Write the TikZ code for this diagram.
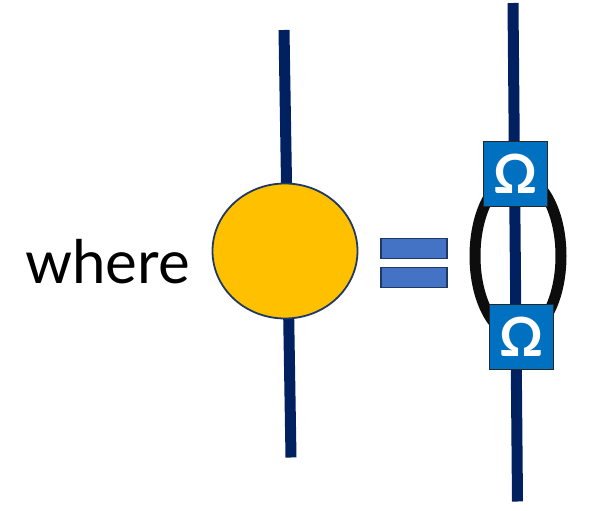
\documentclass[tikz,border=0pt]{standalone}
\usepackage{fontspec}
\usetikzlibrary{shapes.geometric}
\setmainfont{Lato}
\definecolor{navy}{HTML}{002060}
\definecolor{gold}{HTML}{FFC000}
\definecolor{eqblue}{HTML}{4472C4}
\definecolor{eqedge}{HTML}{1F3864}
\definecolor{omblue}{HTML}{0070C0}
\tikzset{
  leg/.style={draw=navy,line width=11pt,line cap=butt},
  ombox/.style={draw=black!85,line width=1.5pt,fill=omblue,minimum width=64pt,minimum height=65pt,inner sep=0pt,text=white,font=\bfseries\fontsize{54}{54}\selectfont},
  eqbar/.style={draw=eqedge,line width=1.5pt,fill=eqblue,minimum width=66pt,minimum height=20pt,inner sep=0pt},
}
\begin{document}
\begin{tikzpicture}[x=1pt,y=-1pt]
\useasboundingbox (0,0) rectangle (590,511);
% left leg and tensor
\coordinate (lt) at (284,30);
\coordinate (lb) at (291,457.5);
\draw[leg] (lt) -- (lb);
\node[ellipse,draw=eqedge,line width=1.8pt,fill=gold,minimum width=145pt,minimum height=135pt,inner sep=0pt] (circ) at (285,251) {};
\node[anchor=base,font=\fontsize{60}{60}\selectfont] (where) at (107.5,283) {where};
% equals
\node[eqbar] (eq1) at (414,248.5) {};
\node[eqbar] (eq2) at (414,277.5) {};
% right side
\coordinate (rt) at (513,3);
\coordinate (rb) at (517.5,501.5);
\draw[leg] (rt) -- (rb);
\draw[black!95,line width=11pt] (518,256) ellipse [x radius=43, y radius=80];
\node[ombox] (om1) at (515.5,174) {Ω};
\node[ombox] (om2) at (521.5,337) {Ω};
\end{tikzpicture}
\end{document}
